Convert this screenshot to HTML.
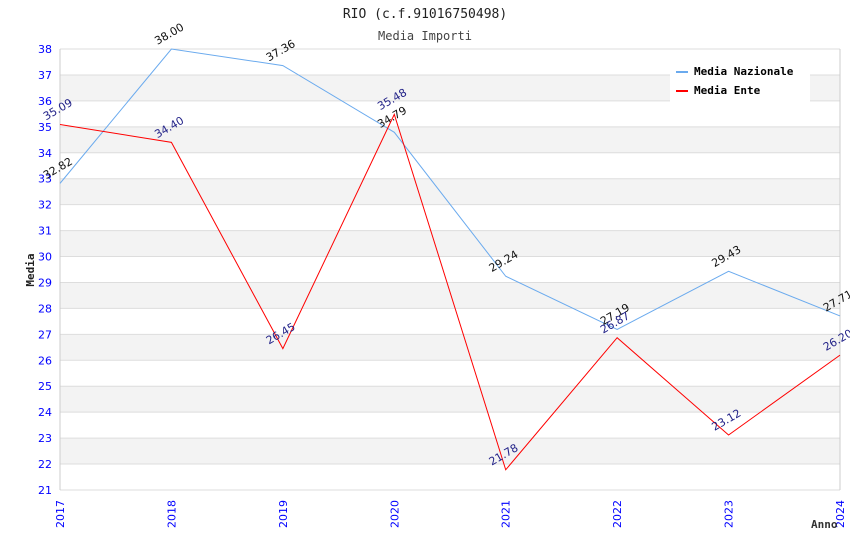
<!DOCTYPE html>
<html><head><meta charset="utf-8"><style>
body{margin:0;background:#fff;}
svg text{font-family:"DejaVu Sans","Liberation Sans",sans-serif;}
svg text.mono{font-family:"DejaVu Sans Mono","Liberation Mono",monospace;}
</style></head><body>
<svg id="chart" width="850" height="550" xmlns="http://www.w3.org/2000/svg">
<text class="mono" x="425" y="18" text-anchor="middle" font-size="13" fill="#222">RIO (c.f.91016750498)</text>
<text class="mono" x="425" y="40" text-anchor="middle" font-size="12" fill="#444">Media Importi</text>
<g id="grid"></g>
<g id="axes"></g>
<g id="series"></g>
<g>
<rect x="670" y="60" width="140" height="42" fill="#fff"/>
<line x1="676" y1="72" x2="688" y2="72" stroke="#6aaaee" stroke-width="2"/>
<text class="mono" x="694" y="75" font-size="11" font-weight="bold" fill="#000">Media Nazionale</text>
<line x1="676" y1="91" x2="688" y2="91" stroke="#ff0000" stroke-width="2"/>
<text class="mono" x="694" y="94" font-size="11" font-weight="bold" fill="#000">Media Ente</text>
</g>
<text class="mono" x="34" y="270" font-size="11" font-weight="bold" fill="#222" text-anchor="middle" transform="rotate(-90 34 270)">Media</text>
<text class="mono" x="811" y="528" font-size="11" font-weight="bold" fill="#333">Anno</text>
</svg>
<script>
const years = ["2017","2018","2019","2020","2021","2022","2023","2024"];
const nazionale = [32.82, 38.00, 37.36, 34.79, 29.24, 27.19, 29.43, 27.71];
const ente = [35.09, 34.40, 26.45, 35.48, 21.78, 26.87, 23.12, 26.20];
const yMin = 21, yMax = 38;
const NS = "http://www.w3.org/2000/svg";
const X0 = 60, X1 = 840, Y0 = 490, Y1 = 49;
function xs(i){ return X0 + i*(X1-X0)/(years.length-1); }
function ys(v){ return Y0 - (v-yMin)*(Y0-Y1)/(yMax-yMin); }
function mk(tag, attrs, parent){ const e=document.createElementNS(NS,tag); for(const k in attrs) e.setAttribute(k,attrs[k]); parent.appendChild(e); return e; }
const grid=document.getElementById('grid'), axes=document.getElementById('axes'), series=document.getElementById('series');
for(let v=yMin; v<yMax; v++){
  const r=mk('rect',{x:X0,y:ys(v+1),width:X1-X0,height:ys(v)-ys(v+1),fill:(v%2===0)?'#f3f3f3':'#ffffff'},grid);
  
  
}
for(let v=yMin; v<=yMax; v++){
  const l=mk('line',{x1:X0,x2:X1,y1:ys(v),y2:ys(v),stroke:'#dddddd','stroke-width':1},grid);
  
  
  const t=mk('text',{x:X0-8,y:ys(v)+4,'text-anchor':'end','font-size':11,fill:'#0000ff'},axes);
  t.textContent=v;
  
  
}
mk('line',{x1:X0,x2:X0,y1:Y1,y2:Y0,stroke:'#ccc'},axes);
mk('line',{x1:X1,x2:X1,y1:Y1,y2:Y0,stroke:'#ccc'},axes);
years.forEach((y,i)=>{
  const x=xs(i);
  const t=mk('text',{x:x+4,y:528,'font-size':11,fill:'#0000ff',transform:`rotate(-90 ${x+4} 528)`},axes);
  t.textContent=y;
  
  
});
function drawSeries(vals,color,labelColor,name){
  const p=mk('polyline',{points:vals.map((v,i)=>xs(i)+','+ys(v)).join(' '),fill:'none',stroke:color,'stroke-width':1},series);
  
  
  vals.forEach((v,i)=>{
    const x=xs(i)-14, y=ys(v)-4;
    const t=mk('text',{x:x,y:y,'font-size':11,fill:labelColor,transform:`rotate(-30 ${x} ${y})`},series);
    t.textContent=v.toFixed(2);
    
    
  });
}
drawSeries(nazionale,'#6aaaee','#111','nazionale');
drawSeries(ente,'#ff0000','#222288','ente');
</script>
</body></html>
